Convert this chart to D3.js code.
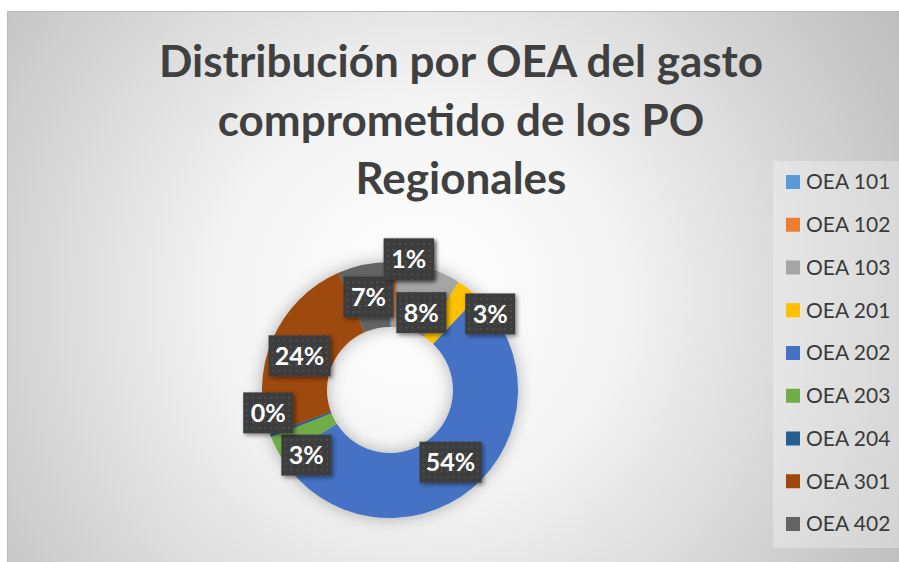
<!DOCTYPE html>
<html>
<head>
<meta charset="utf-8">
<script src="https://cdn.jsdelivr.net/npm/d3@7"></script>
<style>
  html, body { margin: 0; padding: 0; background: #ffffff; }
  svg { display: block; }
</style>
</head>
<body>
<div id="chart"></div>
<script>
// ---- data ----
const categories = ["OEA 101", "OEA 102", "OEA 103", "OEA 201", "OEA 202", "OEA 203", "OEA 204", "OEA 301", "OEA 402"];
const shares = [0.6, 0.4, 8, 3, 54, 3, 0.4, 24, 6.6];
const colors = ["#5B9BD5", "#ED7D31", "#A5A5A5", "#FFC000", "#4472C4", "#70AD47", "#255E91", "#9E480E", "#636363"];
const titleLines = ["Distribución por OEA del gasto", "comprometido de los PO", "Regionales"];

// ---- layout (label nudges from the arc centroid, px) ----
const labelNudge = [[17, -36], [14, -36], [2, 13], [42, -1], [0, -1], [1, 22], [-33, -11], [-3, 3], [-2, 0]];

const W = 899, H = 562;
const cx = 390, cy = 390, rOuter = 128, rInner = 63;

const svg = d3.select("#chart").append("svg").attr("width", W).attr("height", H);
const defs = svg.append("defs");

const grad = defs.append("radialGradient").attr("id", "bg")
  .attr("gradientUnits", "userSpaceOnUse")
  .attr("cx", 420).attr("cy", 300).attr("r", 560);
grad.append("stop").attr("offset", "0%").attr("stop-color", "#ffffff");
grad.append("stop").attr("offset", "35%").attr("stop-color", "#f4f4f4");
grad.append("stop").attr("offset", "100%").attr("stop-color", "#bdbdbd");

const sh = defs.append("filter").attr("id", "donutShadow")
  .attr("x", "-30%").attr("y", "-30%").attr("width", "160%").attr("height", "160%");
sh.append("feDropShadow").attr("dx", 0).attr("dy", 0).attr("stdDeviation", 8)
  .attr("flood-color", "#000").attr("flood-opacity", 0.3);

const lsh = defs.append("filter").attr("id", "labelShadow")
  .attr("x", "-30%").attr("y", "-30%").attr("width", "160%").attr("height", "160%");
lsh.append("feDropShadow").attr("dx", 2).attr("dy", 2).attr("stdDeviation", 2)
  .attr("flood-color", "#000").attr("flood-opacity", 0.45);

const pat = defs.append("pattern").attr("id", "dots")
  .attr("patternUnits", "userSpaceOnUse").attr("width", 6).attr("height", 6);
pat.append("rect").attr("width", 6).attr("height", 6).attr("fill", "#3d3d3d");
pat.append("circle").attr("cx", 3).attr("cy", 3).attr("r", 0.9).attr("fill", "#575757");

// background chart area
svg.append("rect").attr("x", 7.5).attr("y", 11.5).attr("width", W - 7).attr("height", H - 11)
  .attr("fill", "url(#bg)").attr("stroke", "#bcbcbc").attr("stroke-width", 1);

// title
const title = svg.append("text")
  .attr("text-anchor", "middle")
  .attr("font-family", "Lato, 'Open Sans', sans-serif")
  .attr("font-weight", 700)
  .attr("font-size", 44)
  .attr("fill", "#404040");
titleLines.forEach((t, i) => {
  title.append("tspan").attr("x", 461).attr("y", 77 + i * 58.5).text(t);
});

// legend
const legend = svg.append("g");
legend.append("rect").attr("x", 773).attr("y", 161).attr("width", W - 773).attr("height", 387)
  .attr("fill", "#ffffff").attr("fill-opacity", 0.3);
const ly = d3.scalePoint().domain(categories).range([182, 524]);
const li = legend.selectAll("g.item").data(categories).join("g").attr("class", "item")
  .attr("transform", d => `translate(786,${ly(d)})`);
li.append("rect").attr("x", 0).attr("y", -7).attr("width", 14).attr("height", 14)
  .attr("fill", (d, i) => colors[i]);
li.append("text").attr("x", 20).attr("y", 0).attr("dy", "0.35em")
  .attr("font-family", "Lato, 'Open Sans', sans-serif")
  .attr("font-size", 21).attr("fill", "#3a3a3a").text(d => d);

// donut
const pie = d3.pie().sort(null).value(d => d);
const arcs = pie(shares);
const arc = d3.arc().innerRadius(rInner).outerRadius(rOuter);
const g = svg.append("g").attr("transform", `translate(${cx},${cy})`);
g.append("g").attr("filter", "url(#donutShadow)")
  .selectAll("path").data(arcs).join("path")
  .attr("d", arc).attr("fill", (d, i) => colors[i]);

// labels
const total = d3.sum(shares);
const fmt = d3.format(".0%");
const labelArc = d3.arc().innerRadius(95).outerRadius(95);
const lab = g.selectAll("g.lab").data(arcs).join("g").attr("class", "lab")
  .attr("transform", (d, i) => {
    const c = labelArc.centroid(d);
    return `translate(${c[0] + labelNudge[i][0]},${c[1] + labelNudge[i][1]})`;
  });
lab.each(function(d) {
  const sel = d3.select(this);
  const txt = fmt(d.data / total);
  const w = txt.length >= 3 ? 62 : 50;
  sel.append("rect").attr("x", -w / 2).attr("y", -20.5).attr("width", w).attr("height", 41)
    .attr("fill", "url(#dots)").attr("filter", "url(#labelShadow)");
  sel.append("text").attr("text-anchor", "middle").attr("dy", "0.36em")
    .attr("font-family", "Lato, 'Open Sans', sans-serif").attr("font-weight", 700)
    .attr("font-size", 25).attr("fill", "#ffffff").text(txt);
});
// the OEA 101 label sits on top of the OEA 102 label, as in the reference
lab.filter((d, i) => i === 0).raise();
</script>
</body>
</html>
